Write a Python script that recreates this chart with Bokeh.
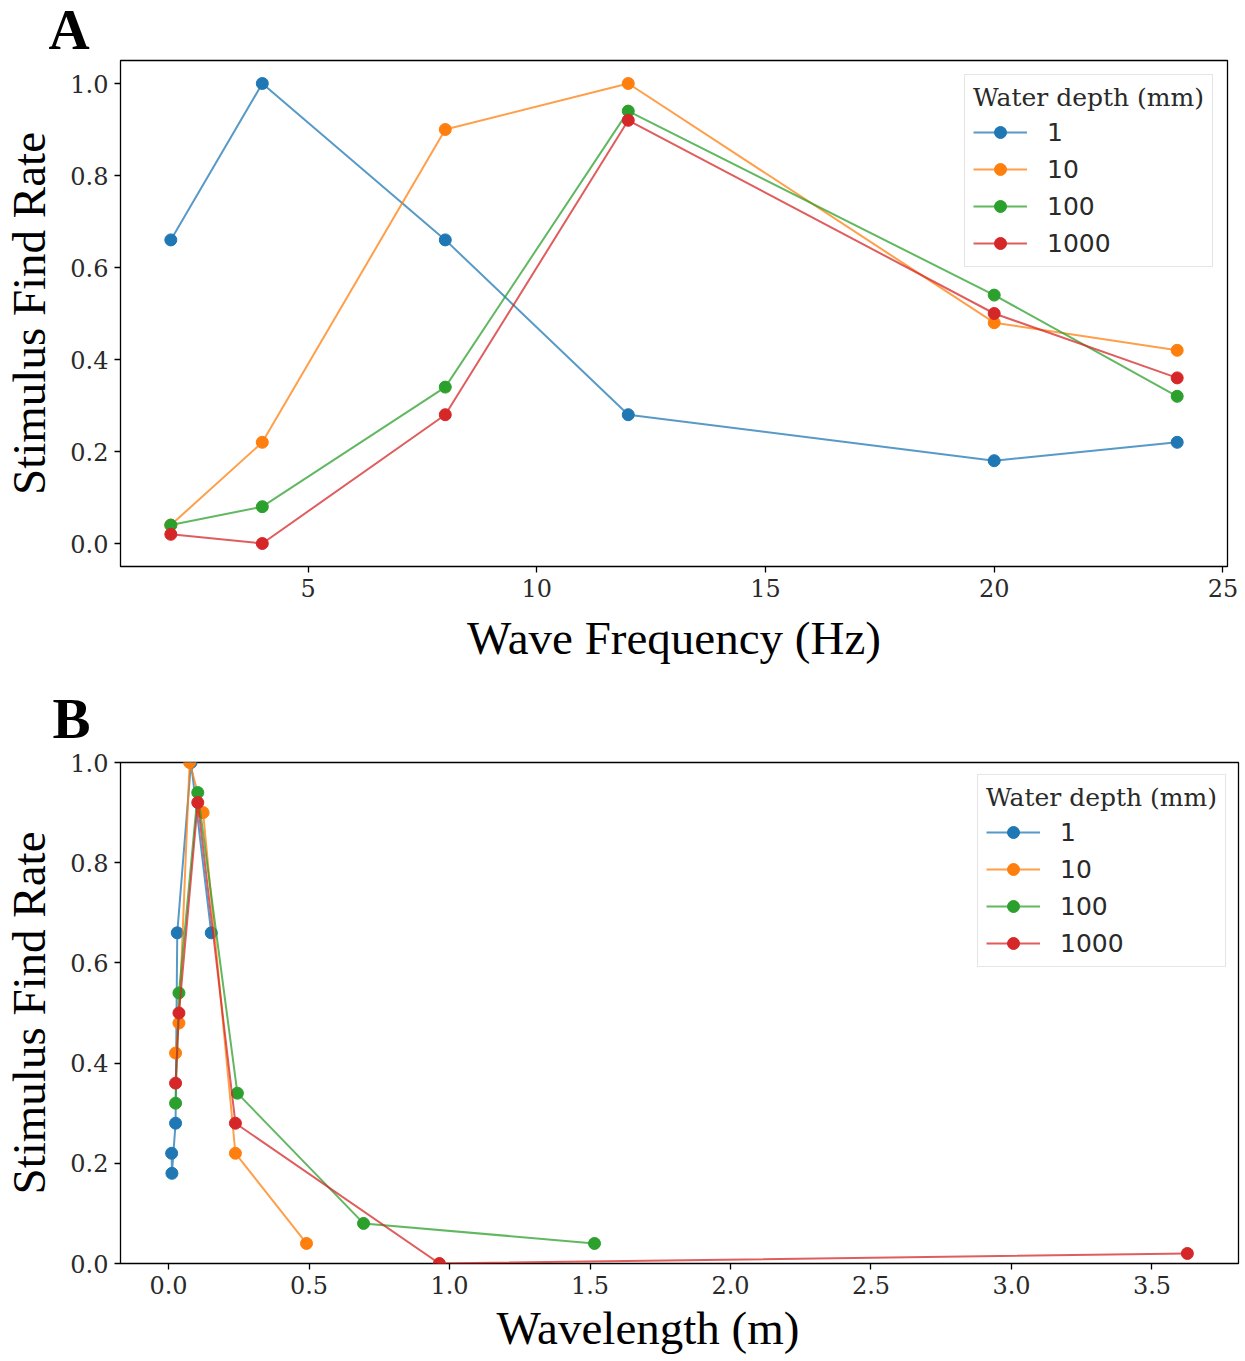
from bokeh.plotting import figure
from bokeh.layouts import column
from bokeh.models import FixedTicker, PrintfTickFormatter, Range1d, Legend, LegendItem, Title
from bokeh.embed import file_html
from bokeh.resources import INLINE

# ---------------- data ----------------
depths = ["1", "10", "100", "1000"]
colors = ["#1f77b4", "#ff7f0e", "#2ca02c", "#d62728"]

freq_hz = [2, 4, 8, 12, 20, 24]
rate_d1 = [0.66, 1.00, 0.66, 0.28, 0.18, 0.22]
rate_d10 = [0.04, 0.22, 0.90, 1.00, 0.48, 0.42]
rate_d100 = [0.04, 0.08, 0.34, 0.94, 0.54, 0.32]
rate_d1000 = [0.02, 0.00, 0.28, 0.92, 0.50, 0.36]

wavelength_d1 = [0.152, 0.080, 0.031, 0.025, 0.012, 0.011]
wavelength_d10 = [0.491, 0.238, 0.123, 0.075, 0.037, 0.025]
wavelength_d100 = [1.516, 0.694, 0.245, 0.104, 0.037, 0.025]
wavelength_d1000 = [3.626, 0.964, 0.238, 0.104, 0.037, 0.025]

rates = [rate_d1, rate_d10, rate_d100, rate_d1000]
wavelengths = [wavelength_d1, wavelength_d10, wavelength_d100, wavelength_d1000]

y_ticks = [0.0, 0.2, 0.4, 0.6, 0.8, 1.0]
xa_ticks = [5, 10, 15, 20, 25]
xb_ticks = [0.0, 0.5, 1.0, 1.5, 2.0, 2.5, 3.0, 3.5]

TICK_FONT = "DejaVu Serif"
LABEL_FONT = "Liberation Serif"


def style(p, xticks, xfmt):
    p.outline_line_color = "black"
    p.outline_line_width = 1.3
    p.xgrid.visible = False
    p.ygrid.visible = False
    for ax in (p.xaxis[0], p.yaxis[0]):
        ax.axis_line_color = None
        ax.major_tick_line_color = "black"
        ax.major_tick_line_width = 1.3
        ax.major_tick_out = 6
        ax.major_tick_in = 0
        ax.minor_tick_line_color = None
        ax.major_label_text_font = TICK_FONT
        ax.major_label_text_font_size = "24px"
        ax.major_label_text_color = "#2a2a2a"
        ax.major_label_standoff = 6
        ax.axis_label_text_font = LABEL_FONT
        ax.axis_label_text_font_size = "47px"
        ax.axis_label_text_font_style = "normal"
        ax.axis_label_text_color = "black"
    p.yaxis[0].ticker = FixedTicker(ticks=y_ticks)
    p.yaxis[0].formatter = PrintfTickFormatter(format="%.1f")
    p.xaxis[0].ticker = FixedTicker(ticks=xticks)
    p.xaxis[0].formatter = PrintfTickFormatter(format=xfmt)
    p.yaxis[0].axis_label = "Stimulus Find Rate"
    p.yaxis[0].axis_label_standoff = 12
    p.xaxis[0].axis_label_standoff = 12


def add_series(p, xs_list, ys_list):
    items = []
    for name, col, xs, ys in zip(depths, colors, xs_list, ys_list):
        l = p.line(xs, ys, line_color=col, line_width=2, line_alpha=0.75)
        s = p.scatter(xs, ys, size=12, fill_color=col, line_color=col)
        items.append(LegendItem(label=name, renderers=[l, s]))
    return items


def add_legend(p, items, margin):
    leg = Legend(items=items, location="top_right")
    leg.title = "Water depth (mm)"
    leg.title_text_font = TICK_FONT
    leg.title_text_font_size = "25px"
    leg.title_text_font_style = "normal"
    leg.title_text_color = "#2a2a2a"
    leg.title_standoff = 5
    leg.label_text_font = "DejaVu Sans"
    leg.label_text_font_size = "25px"
    leg.label_text_color = "#2a2a2a"
    leg.label_height = 30
    leg.glyph_height = 30
    leg.glyph_width = 54
    leg.label_standoff = 20
    leg.spacing = 7
    leg.padding = 8
    leg.margin = margin
    leg.border_line_color = "#cccccc"
    leg.border_line_width = 1.3
    leg.background_fill_alpha = 0.8
    p.add_layout(leg, "center")


def panel_letter(p, text, offset, standoff):
    p.add_layout(Title(text=text, align="left", offset=offset, standoff=standoff,
                       text_font=LABEL_FONT, text_font_size="57px", text_font_style="bold",
                       text_color="black"), "above")


# ---------------- panel A ----------------
pA = figure(frame_width=1107, frame_height=506, height=688, output_backend="svg", toolbar_location=None,
            x_range=Range1d(0.9, 25.1), y_range=Range1d(-0.05, 1.05), title=None,
            min_border_left=120, min_border_right=18, min_border_top=60, min_border_bottom=117)
pA.margin = (-5, 0, 0, 0)
style(pA, xa_ticks, "%d")
pA.xaxis[0].axis_label = "Wave Frequency (Hz)"
itemsA = add_series(pA, [freq_hz] * 4, rates)
add_legend(pA, itemsA, 14)
panel_letter(pA, "A", -72, 0)

# ---------------- panel B ----------------
pB = figure(frame_width=1118, frame_height=501, height=690, output_backend="svg", toolbar_location=None,
            x_range=Range1d(-0.171, 3.808), y_range=Range1d(0.0, 1.0), title=None,
            min_border_left=120, min_border_right=7, min_border_top=72, min_border_bottom=98)
pB.margin = (-12, 0, 0, 0)
style(pB, xb_ticks, "%.1f")
pB.add_layout(Title(text="Wavelength (m)", align="left", offset=376,
                    text_font=LABEL_FONT, text_font_size="47px", text_font_style="normal",
                    text_color="black", standoff=6), "below")
itemsB = add_series(pB, wavelengths, rates)
add_legend(pB, itemsB, 12)
panel_letter(pB, "B", -68, 26)

layout = column(pA, pB, spacing=0)
open("out.html", "w").write(file_html(layout, INLINE))
